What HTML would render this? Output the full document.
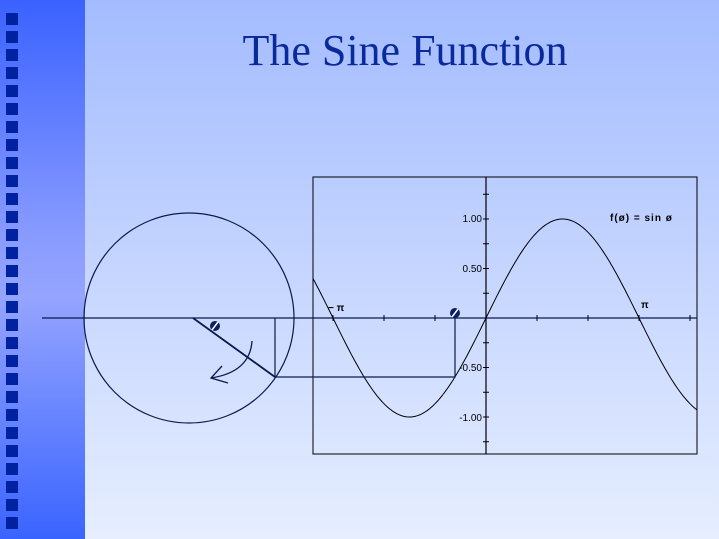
<!DOCTYPE html>
<html><head><meta charset="utf-8"><style>
html,body{margin:0;padding:0}
body{width:719px;height:539px;position:relative;overflow:hidden;background:linear-gradient(#a4bcff,#e6eeff);font-family:"Liberation Sans",sans-serif}
#bar{position:absolute;left:0;top:0;width:85px;height:539px;background:linear-gradient(#3a62ff,#8a9cff 45%,#95a4ff 55%,#3a64ff)}
.sq{position:absolute;left:6px;width:12px;height:12px;background:#0022a0}
h1{position:absolute;left:85px;width:640px;top:25px;margin:0;text-align:center;font:44px "Liberation Serif",serif;color:#0a2a9c;font-weight:normal}
svg{position:absolute;left:0;top:0}
</style></head><body>
<div id="bar"></div>
<div id="sqs"></div>
<h1>The Sine Function</h1>
<svg width="719" height="539">
<rect x="313" y="177" width="384" height="277" fill="none" stroke="#000" stroke-width="1"/>
<line x1="42" y1="318" x2="697" y2="318" stroke="#0a1a50" stroke-width="1.3"/>
<line x1="486" y1="177" x2="486" y2="454" stroke="#000" stroke-width="1.2"/>
<g id="ticks" stroke="#000"></g>
<path id="sine" fill="none" stroke="#000" stroke-width="1"/>
<circle cx="189" cy="318" r="105" fill="none" stroke="#0a1a50" stroke-width="1.2"/>
<line x1="193" y1="318" x2="275" y2="377" stroke="#0a1a50" stroke-width="1.8"/>
<polyline points="275,318 275,377 455,377 455,318" fill="none" stroke="#0a1a50" stroke-width="1.2"/>
<path d="M252,341 Q250,372 211,378" fill="none" stroke="#0a1a50" stroke-width="1.3"/>
<polyline points="222,366 211,378 228,383" fill="none" stroke="#0a1a50" stroke-width="1.3"/>
<g font-size="10" fill="#000" text-anchor="end">
<text x="482" y="222">1.00</text><text x="482" y="272">0.50</text>
<text x="482" y="371">-0.50</text><text x="482" y="421">-1.00</text>
</g>
<text x="328" y="311" font-size="10" font-weight="bold">− π</text>
<text x="641" y="308" font-size="10" font-weight="bold">π</text>
<text x="610" y="221" font-size="10" font-weight="bold" letter-spacing="1">f(ø) = sin ø</text>
<g fill="#0a2060"><circle cx="215" cy="326" r="5"/><circle cx="455" cy="313" r="5"/></g>
<g stroke="#fff" stroke-width="1.5"><line x1="212" y1="330" x2="218" y2="322"/><line x1="452" y1="317" x2="458" y2="309"/></g>
</svg>
<script>
var s='';for(var i=0;i<29;i++)s+='<div class="sq" style="top:'+(13+18*i)+'px"></div>';document.getElementById('sqs').innerHTML=s;
var d='';for(var x=313;x<=697;x+=2){var y=318-99*Math.sin((x-486)/153*Math.PI);d+=(x==313?'M':'L')+x+','+y.toFixed(1);}
document.getElementById('sine').setAttribute('d',d);
var t='';for(var k=-3;k<=4;k++){var x=486+51*k;t+='<line x1="'+x+'" y1="315" x2="'+x+'" y2="321"/>';}
for(var k=-5;k<=5;k++){if(!k)continue;var y=318-24.75*k;t+='<line x1="483" y1="'+y+'" x2="489" y2="'+y+'"/>';}
document.getElementById('ticks').innerHTML=t;
</script>
</body></html>
